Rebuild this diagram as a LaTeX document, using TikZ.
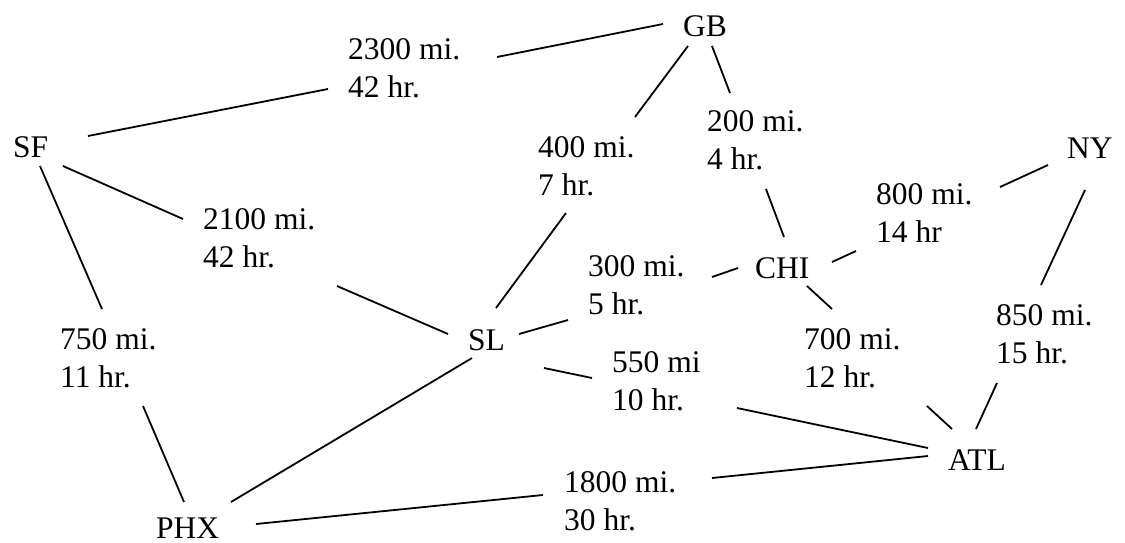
\documentclass[tikz,border=0pt]{standalone}
\usepackage{fontspec}
\setmainfont{Liberation Serif}
\begin{document}
\begin{tikzpicture}[x=1pt,y=-1pt,
  city/.style={inner sep=0pt,anchor=base west,font=\fontsize{31.5}{38}\selectfont},
  % two-line labels: the base anchor sits on the baseline of the second line
  cost/.style={inner sep=0pt,anchor=base west,align=left,font=\fontsize{31.5}{38}\selectfont},
  edge/.style={line width=1.8pt}]
\useasboundingbox (0,0) rectangle (1125,542);

% cities
\node[city] (GB)  at (683,36)  {GB};
\node[city] (SF)  at (13,157)  {SF};
\node[city] (NY)  at (1067,158) {NY};
\node[city] (CHI) at (755,278) {CHI};
\node[city] (SL)  at (468,350) {SL};
\node[city] (ATL) at (948,470) {ATL};
\node[city] (PHX) at (156,538.5) {PHX};

% distance / travel-time labels
\node[cost] (sfgb)   at (348,97)  {2300 mi.\\42 hr.};
\node[cost] (gbsl)   at (538,195) {400 mi.\\7 hr.};
\node[cost] (gbchi)  at (707,169) {200 mi.\\4 hr.};
\node[cost] (nychi)  at (876,242) {800 mi.\\14 hr};
\node[cost] (sfsl)   at (203,267) {2100 mi.\\42 hr.};
\node[cost] (slchi)  at (588,314) {300 mi.\\5 hr.};
\node[cost] (sfphx)  at (60,387)  {750 mi.\\11 hr.};
\node[cost] (slatl)  at (612,410) {550 mi\\10 hr.};
\node[cost] (chiatl) at (804,387) {700 mi.\\12 hr.};
\node[cost] (nyatl)  at (996,363) {850 mi.\\15 hr.};
\node[cost] (phxatl) at (564,530) {1800 mi.\\30 hr.};

% road segments: each runs between a city and a label
\foreach \n/\ax/\ay/\bx/\by in {
  sfgb1/88/136/328/89,     sfgb2/497/57/663/24,
  gbsl1/688/46/635/117,    gbsl2/566/213/496/308,
  gbchi1/712/46/730/93,    gbchi2/766/189/784/237,
  nychi1/1048/165/1000/187, nychi2/856/251/832/262,
  nyatl1/1085/190/1041/285, nyatl2/997/383/976/429,
  chiatl1/807/286/832/309, chiatl2/927/406/952/429,
  sfsl1/63/166/183/219,    sfsl2/337/286/448/334,
  sfphx1/40/166/102/309,   sfphx2/143/406/184/502,
  phxsl/231/502/472/358,
  phxatl1/256/524/543/495, phxatl2/712/478/928/456,
  slatl1/544/368/592/378,  slatl2/737/408/928/448,
  slchi1/519/334/568/320,  slchi2/712/277/738/268}
{
  \coordinate (\n-a) at (\ax,\ay);
  \coordinate (\n-b) at (\bx,\by);
  \draw[edge] (\n-a) -- (\n-b);
}
\end{tikzpicture}
\end{document}
